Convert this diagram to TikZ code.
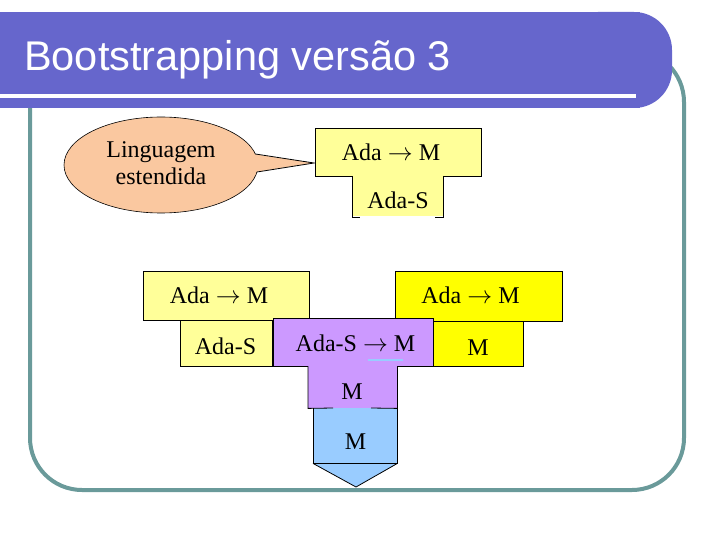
\documentclass[tikz,border=0pt]{standalone}
\usepackage{fontspec}
\setmainfont{Liberation Serif}
\newfontfamily\titlefont{Liberation Sans}
\usetikzlibrary{shapes.geometric}
\definecolor{framec}{RGB}{106,154,154}
\definecolor{barc}{RGB}{102,102,204}
\definecolor{peach}{RGB}{250,200,160}
\definecolor{lyel}{RGB}{255,255,153}
\definecolor{yel}{RGB}{255,255,0}
\definecolor{purp}{RGB}{204,153,255}
\definecolor{blu}{RGB}{153,204,255}
\tikzset{
  box/.style={draw=black, line width=0.8pt, inner sep=0pt, anchor=north west},
  nobox/.style={inner sep=0pt, anchor=north west},
  lbl/.style={anchor=base, inner sep=0pt, font=\fontsize{24}{27}\selectfont},
  edge/.style={draw=black, line width=0.8pt}
}
\begin{document}
\begin{tikzpicture}[x=1pt,y=-1pt]
\useasboundingbox (0,0) rectangle (720,540);
% frame
\draw[framec, line width=4pt, rounded corners=52pt] (30,50) rectangle (684,490);
% title bar
\fill[barc] (0,12) rectangle (640,108);
\fill[barc, rounded corners=38pt] (560,12) rectangle (672,108);
\draw[white, line width=4pt] (0,96) -- (636,96);
\node[anchor=base west, text=white, inner sep=0pt, font=\titlefont\fontsize{41.5}{48}\selectfont] (title) at (24,71) {Bootstrapping versão 3};
% callout
\node[ellipse, draw=black, line width=0.6pt, fill=peach, minimum width=194pt, minimum height=96pt, inner sep=0pt] (bubble) at (161,165) {};
\coordinate (tip) at (314,163);
\coordinate (b1) at (255.4,154);
\coordinate (b2) at (257,172);
\fill[peach] ([xshift=-2.5pt]b1) -- (tip) -- ([xshift=-2.5pt]b2) -- cycle;
\draw[line width=0.8pt] (b1) -- (tip) -- (b2);
\node[lbl] (l1) at (161,158) {Linguagem};
\node[lbl] (l2) at (161,185) {estendida};
% top T
\node[box, fill=lyel, minimum width=166pt, minimum height=48pt] (tu) at (315,128) {};
\node[nobox, fill=lyel, minimum width=91pt, minimum height=40pt] (tl) at (352,176) {};
\draw[edge] (tl.north west) -- ++(0,41) -- ++(8,0);
\draw[edge] (tl.north east) -- ++(0,41) -- ++(-8,0);
\node[lbl] (tut) at (391,161) {Ada $\rightarrow$ M};
\node[lbl] (tlt) at (398,209) {Ada-S};
% left T
\node[box, fill=lyel, minimum width=166pt, minimum height=49pt] (lu) at (143,271) {};
\node[box, fill=lyel, minimum width=92pt, minimum height=46pt] (ll) at (180,320) {};
% right T
\node[box, fill=yel, minimum width=167pt, minimum height=50pt] (ru) at (395,271) {};
\node[box, fill=yel, minimum width=90pt, minimum height=45pt] (rl) at (433,321) {};
% purple T
\node[box, fill=purp, minimum width=160pt, minimum height=48pt] (p) at (273,318) {};
\draw[blu, line width=2pt] (368,360) -- (403,360);
\node[nobox, fill=purp, minimum width=89pt, minimum height=42pt] (pm) at (308,366) {};
% blue
\fill[blu] (313,408) rectangle (397,463);
\node[nobox, minimum width=84pt, minimum height=55pt] (b) at (313,408) {};
\draw[edge, fill=blu] (b.south west) -- (356,487) -- (b.south east);
\draw[edge] (b.north west) -- (b.south west) -- (b.south east) -- (b.north east);
\draw[edge] (pm.north west) -- (pm.south west) -- (333,408);
\draw[edge] (pm.north east) -- (pm.south east) -- (371,408);
% labels
\node[lbl] (lut) at (219,303) {Ada $\rightarrow$ M};
\node[lbl] (llt) at (225.5,354) {Ada-S};
\node[lbl] (rut) at (470.5,303) {Ada $\rightarrow$ M};
\node[lbl] (rlt) at (478,355) {M};
\node[lbl] (pt) at (355.5,351) {Ada-S $\rightarrow$ M};
\node[lbl] (pmt) at (352,399) {M};
\node[lbl] (bt) at (355.5,449) {M};
\end{tikzpicture}
\end{document}
